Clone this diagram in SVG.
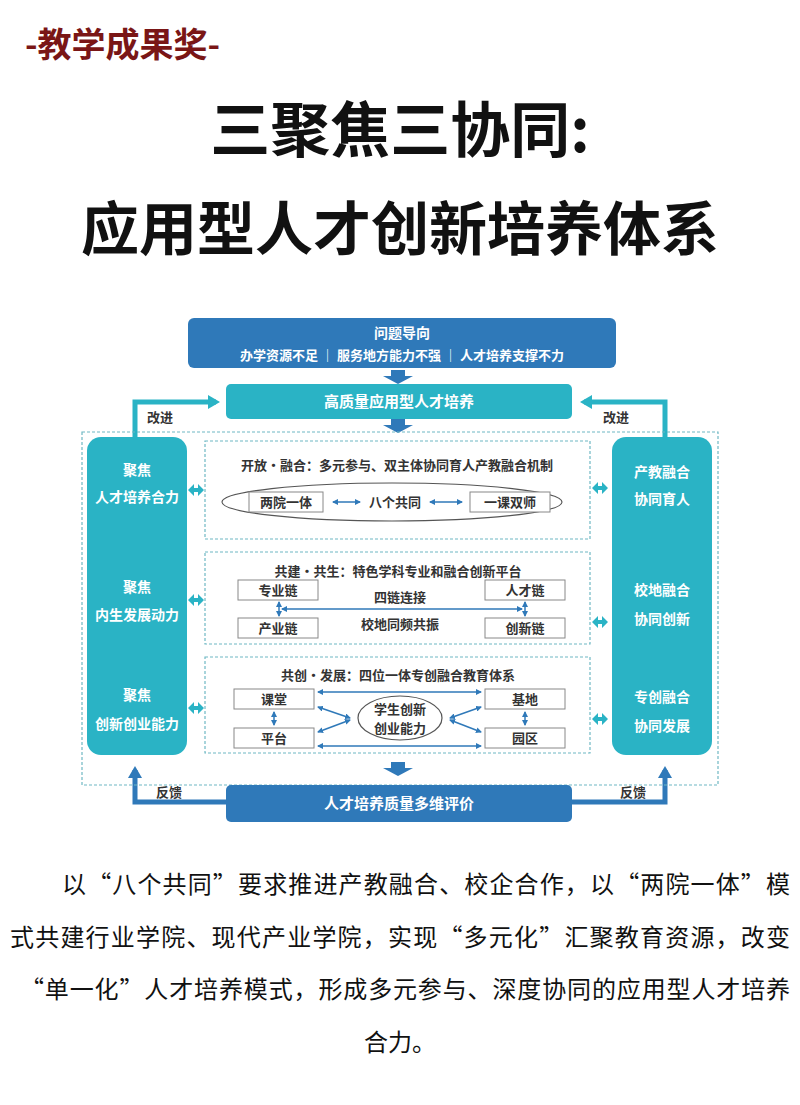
<svg xmlns="http://www.w3.org/2000/svg" width="800" height="1105" viewBox="0 0 800 1105">
<style>
text{font-family:"Noto Sans CJK SC","Noto Sans",sans-serif;}
.h{font-weight:700;fill:#111;text-anchor:middle}
.w{fill:#fff;font-weight:700;text-anchor:middle}
.k{fill:#333;font-weight:700;text-anchor:middle;font-size:13px}
.p{fill:#111;font-size:24px}
.dash{fill:#fff;stroke:#6fb8c4;stroke-width:1.2;stroke-dasharray:3 2}
.sb{fill:#fff;stroke:#888;stroke-width:1}
.ln{stroke:#2f79b9;stroke-width:1.5;fill:none}
.fb{stroke:#2f79b9;stroke-width:5;fill:none}
.tb{stroke:#2ab3c5;stroke-width:5;fill:none}
</style>
<defs>
<marker id="a" markerWidth="6" markerHeight="6" refX="5" refY="3" orient="auto-start-reverse" markerUnits="userSpaceOnUse"><path d="M0,0L6,3L0,6z" fill="#2f79b9"/></marker>
<marker id="ab" markerWidth="14" markerHeight="14" refX="8" refY="7" orient="auto" markerUnits="userSpaceOnUse"><path d="M0,0L12,7L0,14z" fill="#2f79b9"/></marker>
<marker id="at" markerWidth="14" markerHeight="14" refX="8" refY="7" orient="auto" markerUnits="userSpaceOnUse"><path d="M0,0L12,7L0,14z" fill="#2ab3c5"/></marker>
<path id="dbl" d="M-8,0l6,-6v4h4v-4l6,6l-6,6v-4h-4v4z" fill="#2ab3c5"/>
</defs>
<rect width="800" height="1105" fill="#fff"/>
<text x="25" y="57" font-size="34" font-weight="700" fill="#7a1616">-教学成果奖-</text>
<text class="h" x="400" y="152" font-size="60">三聚焦三协同:</text>
<text class="h" x="400" y="250" font-size="58">应用型人才创新培养体系</text>

<g id="connectors">
<path class="tb" d="M135,440V402H216" marker-end="url(#at)"/>
<path class="tb" d="M665,440V402H584" marker-end="url(#at)"/>
<path class="fb" d="M226,802H135V770" marker-end="url(#ab)"/>
<path class="fb" d="M572,802H665V770" marker-end="url(#ab)"/>
<path d="M391,370h14v6h8l-15,8l-15,-8h8z" fill="#2f79b9"/>
<path d="M391,419h14v6h8l-15,8l-15,-8h8z" fill="#2f79b9"/>
<path d="M391,762h14v6h8l-15,8l-15,-8h8z" fill="#2f79b9"/>
<use href="#dbl" x="196" y="490"/><use href="#dbl" x="196" y="600"/><use href="#dbl" x="196" y="708"/>
<use href="#dbl" x="600" y="488"/><use href="#dbl" x="600" y="622"/><use href="#dbl" x="600" y="719"/>
</g>
<text x="160" y="422" font-size="13" font-weight="700" fill="#333" text-anchor="middle">改进</text>
<text x="616" y="422" font-size="13" font-weight="700" fill="#333" text-anchor="middle">改进</text>
<text x="169" y="797" font-size="13" font-weight="700" fill="#333" text-anchor="middle">反馈</text>
<text x="633" y="797" font-size="13" font-weight="700" fill="#333" text-anchor="middle">反馈</text>

<g id="problem"><rect x="188" y="318" width="428" height="50" rx="6" fill="#2f79b9"/>
<text class="w" x="402" y="338" font-size="14">问题导向</text>
<text class="w" x="402" y="360" font-size="13" font-weight="400">办学资源不足 ｜ 服务地方能力不强 ｜ 人才培养支撑不力</text></g>
<g id="goal"><rect x="226" y="384" width="346" height="35" rx="5" fill="#2ab3c5"/>
<text class="w" x="399" y="407" font-size="15">高质量应用型人才培养</text></g>

<rect x="82" y="432" width="636" height="353" fill="none" stroke="#6fb8c4" stroke-width="1.2" stroke-dasharray="3 2"/>

<g id="left"><rect x="87" y="437" width="100" height="318" rx="14" fill="#2ab3c5"/>
<text class="w" x="137" y="475" font-size="14">聚焦</text><text class="w" x="137" y="502" font-size="14">人才培养合力</text>
<text class="w" x="137" y="592" font-size="14">聚焦</text><text class="w" x="137" y="620" font-size="14">内生发展动力</text>
<text class="w" x="137" y="700" font-size="14">聚焦</text><text class="w" x="137" y="729" font-size="14">创新创业能力</text></g>
<g id="right"><rect x="612" y="437" width="100" height="318" rx="14" fill="#2ab3c5"/>
<text class="w" x="662" y="477" font-size="14">产教融合</text><text class="w" x="662" y="504" font-size="14">协同育人</text>
<text class="w" x="662" y="595" font-size="14">校地融合</text><text class="w" x="662" y="624" font-size="14">协同创新</text>
<text class="w" x="662" y="702" font-size="14">专创融合</text><text class="w" x="662" y="731" font-size="14">协同发展</text></g>

<g id="block1"><rect class="dash" x="205" y="441" width="385" height="98"/>
<text class="k" x="397" y="470">开放•融合：多元参与、双主体协同育人产教融合机制</text>
<ellipse cx="392" cy="502" rx="170" ry="19" fill="none" stroke="#555" stroke-width="1.2"/>
<rect class="sb" x="249" y="492" width="74" height="20"/><text class="k" x="286" y="507">两院一体</text>
<rect class="sb" x="470" y="492" width="80" height="20"/><text class="k" x="510" y="507">一课双师</text>
<text class="k" x="395" y="507">八个共同</text>
<line class="ln" x1="333" y1="502" x2="360" y2="502" marker-start="url(#a)" marker-end="url(#a)"/>
<line class="ln" x1="430" y1="502" x2="462" y2="502" marker-start="url(#a)" marker-end="url(#a)"/></g>

<g id="block2"><rect class="dash" x="205" y="552" width="385" height="92"/>
<text class="k" x="398" y="576">共建•共生：特色学科专业和融合创新平台</text>
<rect class="sb" x="238" y="580" width="80" height="20"/><text class="k" x="278" y="595">专业链</text>
<rect class="sb" x="238" y="618" width="80" height="20"/><text class="k" x="278" y="633">产业链</text>
<rect class="sb" x="485" y="580" width="80" height="20"/><text class="k" x="525" y="595">人才链</text>
<rect class="sb" x="485" y="618" width="80" height="20"/><text class="k" x="525" y="633">创新链</text>
<text class="k" x="400" y="602">四链连接</text><text class="k" x="400" y="629">校地同频共振</text>
<line class="ln" x1="279" y1="602" x2="279" y2="616" marker-start="url(#a)" marker-end="url(#a)"/>
<line class="ln" x1="525" y1="602" x2="525" y2="616" marker-start="url(#a)" marker-end="url(#a)"/>
<line class="ln" x1="282" y1="609" x2="522" y2="609" marker-start="url(#a)" marker-end="url(#a)"/></g>

<g id="block3"><rect class="dash" x="205" y="657" width="385" height="96"/>
<text class="k" x="398" y="680">共创•发展：四位一体专创融合教育体系</text>
<rect class="sb" x="234" y="689" width="80" height="20"/><text class="k" x="274" y="704">课堂</text>
<rect class="sb" x="234" y="728" width="80" height="20"/><text class="k" x="274" y="743">平台</text>
<rect class="sb" x="485" y="689" width="80" height="20"/><text class="k" x="525" y="704">基地</text>
<rect class="sb" x="485" y="728" width="80" height="20"/><text class="k" x="525" y="743">园区</text>
<ellipse cx="400" cy="718" rx="42" ry="22" fill="#fff" stroke="#555" stroke-width="1.2"/>
<text class="k" x="400" y="714">学生创新</text><text class="k" x="400" y="733">创业能力</text>
<line class="ln" x1="274" y1="712" x2="274" y2="725" marker-start="url(#a)" marker-end="url(#a)"/>
<line class="ln" x1="525" y1="712" x2="525" y2="725" marker-start="url(#a)" marker-end="url(#a)"/>
<line class="ln" x1="318" y1="692" x2="481" y2="692" marker-start="url(#a)" marker-end="url(#a)"/>
<line class="ln" x1="318" y1="746" x2="481" y2="746" marker-start="url(#a)" marker-end="url(#a)"/>
<line class="ln" x1="318" y1="707" x2="350" y2="718" marker-start="url(#a)" marker-end="url(#a)"/>
<line class="ln" x1="318" y1="732" x2="350" y2="720" marker-start="url(#a)" marker-end="url(#a)"/>
<line class="ln" x1="481" y1="707" x2="450" y2="718" marker-start="url(#a)" marker-end="url(#a)"/>
<line class="ln" x1="481" y1="732" x2="450" y2="720" marker-start="url(#a)" marker-end="url(#a)"/></g>

<g id="eval"><rect x="226" y="785" width="346" height="37" rx="5" fill="#2f79b9"/>
<text class="w" x="399" y="809" font-size="15">人才培养质量多维评价</text></g>

<text class="p" x="62" y="893" textLength="728" lengthAdjust="spacing">以“八个共同”要求推进产教融合、校企合作，以“两院一体”模</text>
<text class="p" x="10" y="946" textLength="780" lengthAdjust="spacing">式共建行业学院、现代产业学院，实现“多元化”汇聚教育资源，改变</text>
<text class="p" x="20" y="998" textLength="770" lengthAdjust="spacing">“单一化”人才培养模式，形成多元参与、深度协同的应用型人才培养</text>
<text class="p" x="400" y="1051" text-anchor="middle">合力。</text>
</svg>
